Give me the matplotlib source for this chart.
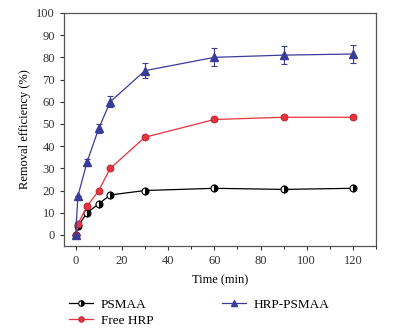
import matplotlib
matplotlib.use("Agg")
import matplotlib.pyplot as plt
from matplotlib.ticker import MultipleLocator

plt.rcParams["font.family"] = ["Liberation Serif", "DejaVu Serif"]

# removal efficiency (%) over time (min)
time = [0, 1, 5, 10, 15, 30, 60, 90, 120]
psmaa = [0, 4, 10, 14, 18, 20, 21, 20.5, 21]
free_hrp = [0, 5, 13, 20, 30, 44, 52, 53, 53]
hrp_psmaa = [0, 17.5, 33, 48, 60, 74, 80, 81, 81.5]
hrp_psmaa_err = [0, 0, 1.2, 2, 2.5, 3.5, 4, 4, 4]

blue = "#3b3b9a"

fig = plt.figure(figsize=(3.93, 3.32), dpi=100)
ax = fig.add_axes([0.163, 0.259, 0.794, 0.702])

ax.plot(time, psmaa, color="black", lw=0.9, marker="o", ms=5,
        fillstyle="right", markerfacecoloralt="white", mec="black", mew=0.8,
        label="PSMAA", zorder=3)
ax.plot(time, free_hrp, color="#e8323c", lw=0.9, marker="o", ms=5,
        mfc="#e8323c", mec="#b0202a", mew=0.6, label="Free HRP", zorder=3)
ax.errorbar(time, hrp_psmaa, yerr=hrp_psmaa_err, fmt="none", ecolor=blue,
            elinewidth=0.8, capsize=2, capthick=0.8, zorder=4)
ax.plot(time, hrp_psmaa, color=blue, lw=0.9, marker="^", ms=5.5,
        mfc=blue, mec=blue, label="HRP-PSMAA", zorder=4)

ax.set_xlim(-5, 130)
ax.set_ylim(-5, 100)
ax.xaxis.set_major_locator(MultipleLocator(20))
ax.xaxis.set_minor_locator(MultipleLocator(10))
ax.yaxis.set_major_locator(MultipleLocator(10))
ax.tick_params(which="major", direction="out", length=3, width=0.8,
               labelsize=9, colors="#333333")
ax.tick_params(which="minor", direction="out", length=2, width=0.6)
for s in ax.spines.values():
    s.set_color("#555555")
    s.set_linewidth(0.9)

ax.set_xlabel("Time (min)", fontsize=9, labelpad=5)
ax.set_ylabel("Removal efficiency (%)", fontsize=9, labelpad=4)

fig.legend(loc="lower left", bbox_to_anchor=(0.145, -0.02), ncol=2,
           frameon=False, fontsize=9.5, handlelength=1.8, columnspacing=5.2,
           labelspacing=0.3, handletextpad=0.6, markerscale=0.8)

fig.savefig("out.png", dpi=100)
